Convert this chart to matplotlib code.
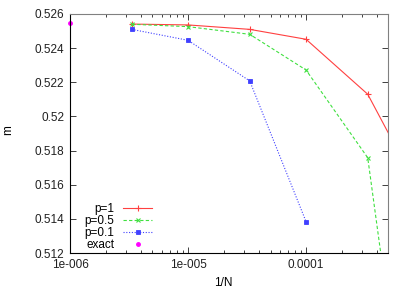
import matplotlib
matplotlib.use("Agg")
import matplotlib.pyplot as plt
from matplotlib.ticker import FixedLocator, FixedFormatter, LogLocator, NullFormatter

plt.rcParams['font.family'] = ['Liberation Sans', 'DejaVu Sans']

inv_n = [1/300000, 1e-5, 1/30000, 1e-4, 1/3000, 1e-3]
m_p1 = [0.52541, 0.52536, 0.52510, 0.52452, 0.52130, 0.5151]
m_p05 = [0.52540, 0.52526, 0.52481, 0.52272, 0.51758, 0.4934]
inv_n_p01 = [1/300000, 1e-5, 1/30000, 1e-4]
m_p01 = [0.52510, 0.52446, 0.52208, 0.51384]
exact_x = [1e-6]
exact_m = [0.52546]

yticks = [0.512, 0.514, 0.516, 0.518, 0.52, 0.522, 0.524, 0.526]
ytick_labels = ['0.512', '0.514', '0.516', '0.518', '0.52', '0.522', '0.524', '0.526']
xticks = [1e-6, 1e-5, 1e-4]
xtick_labels = ['1e-006', '1e-005', '0.0001']

fig = plt.figure(figsize=(4.15, 2.91), dpi=100)
ax = fig.add_axes([70/415, 1-253/291, (388-70)/415, (253-14)/291])

ax.plot(inv_n, m_p1, color='#ff4040', lw=0.8, ls='-', marker='+', ms=4, mew=0.8, label='p=1')
ax.plot(inv_n, m_p05, color='#40e040', lw=0.8, ls=(0, (3, 2)), marker='x', ms=3.5, mew=0.8, label='p=0.5')
ax.plot(inv_n_p01, m_p01, color='#4040ff', lw=0.8, ls=(0, (1, 1.5)), marker='s', ms=3, mew=0.6, mfc='#4040ff', label='p=0.1')
ax.plot(exact_x, exact_m, color='#ff00ff', ls='none', marker='o', ms=2.5, label='exact', clip_on=False)

ax.set_xscale('log')
ax.set_xlim(1e-6, 4.95e-4)
ax.set_ylim(0.512, 0.526)
ax.xaxis.set_major_locator(FixedLocator(xticks))
ax.xaxis.set_major_formatter(FixedFormatter(xtick_labels))
ax.xaxis.set_minor_locator(LogLocator(base=10, subs=range(2, 10)))
ax.xaxis.set_minor_formatter(NullFormatter())
ax.yaxis.set_major_locator(FixedLocator(yticks))
ax.yaxis.set_major_formatter(FixedFormatter(ytick_labels))

ax.tick_params(which='both', direction='in', top=True, right=True, labelsize=8.5, colors='#202020')
ax.tick_params(which='major', length=4, width=0.6, pad=4)
ax.tick_params(which='minor', length=2, width=0.6)
for s in ['top', 'right']:
    ax.spines[s].set_color('#808080')
    ax.spines[s].set_linewidth(0.8)
for s in ['left', 'bottom']:
    ax.spines[s].set_color('#000000')
    ax.spines[s].set_linewidth(0.8)

ax.set_xlabel('1/N', fontsize=8.5)
ax.xaxis.set_label_coords((223-70)/318, -(277-253)/239)
ax.set_ylabel('m', fontsize=8.5)
ax.yaxis.set_label_coords(-(70-14)/318, (253-130)/239)

leg = ax.legend(loc='lower left', bbox_to_anchor=(0.02, -0.025), frameon=False, markerfirst=False,
                fontsize=8.5, handlelength=2.5, handletextpad=0.7, labelspacing=-0.02, borderaxespad=0.3)
for t in leg.get_texts():
    t.set_ha('right')
leg._legend_box.align = 'right'

fig.savefig('out.png', dpi=100)
